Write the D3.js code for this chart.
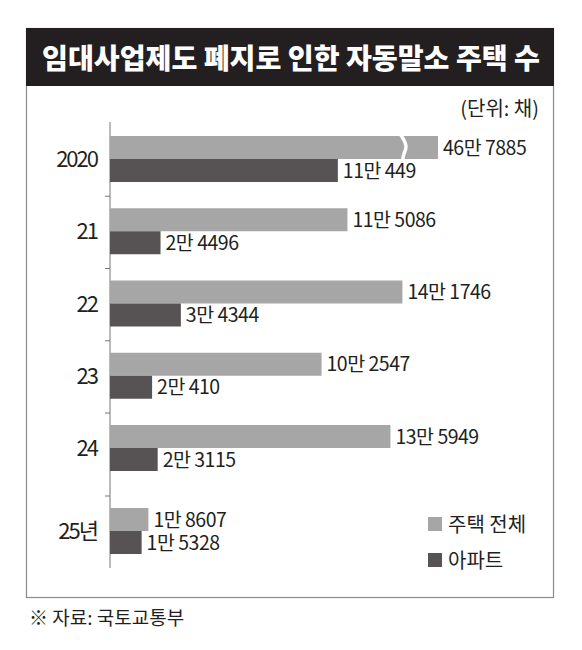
<!DOCTYPE html>
<html>
<head>
<meta charset="utf-8">
<script src="https://cdn.jsdelivr.net/npm/d3@7"></script>
<style>
  body { margin: 0; background: #fff; }
  svg text { font-family: "Noto Sans CJK KR", "Noto Sans", sans-serif; fill: #231f20; }
</style>
</head>
<body>
<div id="chart"></div>
<script>
// chart data
let years = ["2020", "21", "22", "23", "24", "25년"];
let totalHouses = [467885, 115086, 141746, 102547, 135949, 18607];
let apartments = [110449, 24496, 34344, 20410, 23115, 15328];
let seriesNames = ["주택 전체", "아파트"];

let svgWidth = 582;
let svgHeight = 650;

let svg = d3.select("#chart")
  .append("svg")
  .attr("width", svgWidth)
  .attr("height", svgHeight);

// frame + title band
svg.append("rect")
  .attr("x", 26.5).attr("y", 28.5)
  .attr("width", 527).attr("height", 569)
  .attr("fill", "none")
  .attr("stroke", "#8a8a8a")
  .attr("stroke-width", 1.2);

svg.append("rect")
  .attr("x", 26).attr("y", 28)
  .attr("width", 528).attr("height", 58)
  .attr("fill", "#231f20");

svg.append("text")
  .attr("x", 42).attr("y", 69)
  .attr("textLength", 498)
  .attr("lengthAdjust", "spacingAndGlyphs")
  .style("font-size", "28px")
  .style("font-weight", 900)
  .style("fill", "#fff")
  .text("임대사업제도 폐지로 인한 자동말소 주택 수");

svg.append("text")
  .attr("x", 539).attr("y", 116)
  .attr("text-anchor", "end")
  .style("font-size", "20px")
  .text("(단위: 채)");

// scales
let axisX = 110;
let barH = 23;

// x has a break: values above ~143000 are squeezed into the last 33px
let xScale = d3.scaleLinear()
  .domain([0, 143000, 467885])
  .range([0, 295, 328]);

// group tops, the last (partial) year sits a little further down
let yTop = d3.scaleLinear()
  .domain([0, 4, 5])
  .range([136, 425, 508]);

let fmt = v => Math.floor(v / 10000) + "만 " + (v % 10000);

let chartGroup = svg.append("g");

// axis line and separator ticks
chartGroup.append("line")
  .attr("x1", axisX).attr("x2", axisX)
  .attr("y1", 122).attr("y2", 568)
  .attr("stroke", "#777")
  .attr("stroke-width", 1);

chartGroup.selectAll(".sep")
  .data(d3.range(1, years.length))
  .enter()
  .append("line")
  .attr("class", "sep")
  .attr("x1", axisX - 5).attr("x2", axisX)
  .attr("y1", i => yTop(i) - 12)
  .attr("y2", i => yTop(i) - 12)
  .attr("stroke", "#777");

let colors = ["#a6a6a6", "#575354"];
let series = [totalHouses, apartments];

series.forEach(function(values, s) {
  chartGroup.selectAll(".bar" + s)
    .data(values)
    .enter()
    .append("rect")
    .attr("class", "bar" + s)
    .attr("x", axisX)
    .attr("y", (d, i) => yTop(i) + s * barH)
    .attr("width", d => xScale(d))
    .attr("height", barH)
    .attr("fill", colors[s]);

  chartGroup.selectAll(".lab" + s)
    .data(values)
    .enter()
    .append("text")
    .attr("class", "lab" + s)
    .attr("x", d => axisX + xScale(d) + 5)
    .attr("y", (d, i) => yTop(i) + s * barH + barH / 2 + 7)
    .style("font-size", "19.5px")
    .style("letter-spacing", "-0.5px")
    .text(d => fmt(d));
});

// break mark on the 2020 total bar
let bx = axisX + xScale(141000);
let bt = yTop(0) - 1, bb = yTop(0) + barH + 1;
chartGroup.append("path")
  .attr("d", `M${bx},${bt} C${bx + 3},${bt + 5} ${bx + 6},${bt + 9} ${bx + 5},${bt + 13}` +
             ` C${bx + 4.5},${bt + 17} ${bx + 1.5},${bb - 5} ${bx + 2},${bb}`)
  .attr("fill", "none")
  .attr("stroke", "#fff")
  .attr("stroke-width", 3.5);

// category labels
chartGroup.selectAll(".cat")
  .data(years)
  .enter()
  .append("text")
  .attr("class", "cat")
  .attr("x", 97)
  .attr("y", (d, i) => yTop(i) + barH + 8)
  .attr("text-anchor", "end")
  .style("font-size", "22px")
  .style("letter-spacing", "-2px")
  .text(d => d);

// legend
let legend = svg.append("g");
seriesNames.forEach(function(name, s) {
  legend.append("rect")
    .attr("x", 428).attr("y", 517 + s * 36)
    .attr("width", 14).attr("height", 14)
    .attr("fill", colors[s]);
  legend.append("text")
    .attr("x", 448).attr("y", 532 + s * 36)
    .style("font-size", "20px")
    .text(name);
});

// source
svg.append("text")
  .attr("x", 29).attr("y", 625)
  .style("font-size", "19px")
  .text("※ 자료: 국토교통부");
</script>
</body>
</html>
